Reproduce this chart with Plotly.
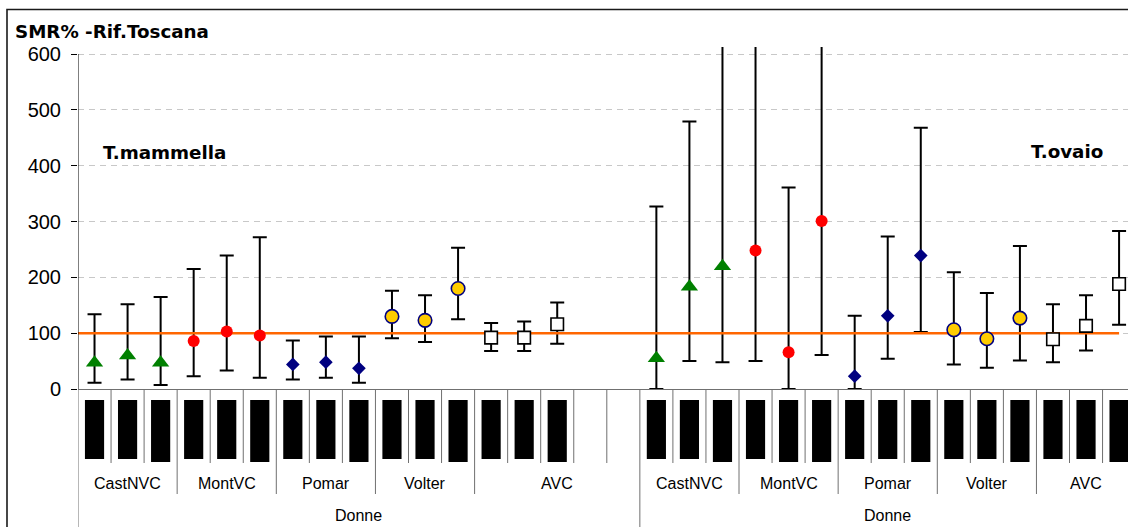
import plotly.graph_objects as go

# ---------------- data ----------------
groups = ["CastNVC", "MontVC", "Pomar", "Volter", "AVC"]
panels = ["T.mammella", "T.ovaio"]
sex_label = "Donne"
y_title = "SMR% -Rif.Toscana"
periods_per_group = 3
blank_slots_between_panels = 2

mammella_smr = [47, 60, 47, 86, 103, 96, 44, 48, 37, 130, 123, 180, 92, 92, 116]
mammella_low = [11, 17, 7, 23, 33, 20, 17, 20, 11, 91, 84, 125, 68, 68, 81]
mammella_high = [134, 152, 165, 215, 239, 272, 87, 94, 94, 176, 168, 253, 118, 121, 155]

ovaio_smr = [55, 183, 220, 248, 66, 301, 23, 131, 239, 106, 90, 127, 89, 113, 188]
ovaio_low = [0, 50, 48, 50, 0, 61, 0, 54, 102, 44, 38, 51, 48, 69, 115]
ovaio_high = [327, 479, 680, 720, 361, 760, 131, 273, 468, 209, 172, 256, 152, 168, 283]

reference_smr = 100
y_ticks = [0, 100, 200, 300, 400, 500, 600]

# ---------------- styling ----------------
group_marker = {
    "CastNVC": dict(symbol="triangle-up", size=15, color="#008000"),
    "MontVC": dict(symbol="circle", size=12, color="#ff0000"),
    "Pomar": dict(symbol="diamond", size=10.5, color="#000080"),
    "Volter": dict(symbol="circle", size=13.5, color="#ffcc00", line=dict(color="#000080", width=1.6)),
    "AVC": dict(symbol="square", size=12.5, color="white", line=dict(color="black", width=1.6)),
}

W, H = 1128, 527
ML, MT, MB = 78, 47, 138
plot_h = H - MT - MB
slot_px = 33.05
x_lo = -0.5
x_hi = x_lo + (W - ML) / slot_px
y_top = 600 * plot_h / (389 - 54)


def py(px):  # pixel row -> paper y
    return (H - MB - px) / plot_h


def px_x(px):  # pixel column -> paper x
    return (px - ML) / (W - ML)


n_per_panel = len(groups) * periods_per_group
mam_x = list(range(n_per_panel))
ova_start = n_per_panel + blank_slots_between_panels
ova_x = [ova_start + i for i in range(n_per_panel)]
n_slots = ova_start + n_per_panel

panel_data = [
    (mam_x, mammella_smr, mammella_low, mammella_high),
    (ova_x, ovaio_smr, ovaio_low, ovaio_high),
]

fig = go.Figure()

# error bars first
for xs, v, lo, hi in panel_data:
    for gi, g in enumerate(groups):
        s = slice(gi * periods_per_group, (gi + 1) * periods_per_group)
        vv, ll, hh = v[s], lo[s], hi[s]
        fig.add_trace(go.Scatter(
            x=xs[s], y=vv, mode="markers",
            marker=dict(size=1, color="rgba(0,0,0,0)"),
            error_y=dict(type="data", symmetric=False,
                         array=[h - a for h, a in zip(hh, vv)],
                         arrayminus=[a - l for a, l in zip(vv, ll)],
                         color="black", thickness=2, width=7),
            hoverinfo="skip", showlegend=False))

# reference line
fig.add_trace(go.Scatter(x=[x_lo, ova_x[-1]], y=[reference_smr, reference_smr], mode="lines",
                         line=dict(color="#ff6600", width=2.5), showlegend=False))

# markers
for xs, v, lo, hi in panel_data:
    for gi, g in enumerate(groups):
        s = slice(gi * periods_per_group, (gi + 1) * periods_per_group)
        fig.add_trace(go.Scatter(x=xs[s], y=v[s], mode="markers",
                                 marker=group_marker[g], showlegend=False, name=g))

shapes = []
# y axis line
shapes.append(dict(type="line", xref="x", yref="y", x0=x_lo, x1=x_lo, y0=0, y1=600,
                   line=dict(color="black", width=1)))
# category dividers
group_bounds = set()
for start in (0, ova_start):
    for gi in range(1, len(groups)):
        group_bounds.add(start + gi * periods_per_group - 0.5)
panel_bounds = {x_lo, ova_start - 0.5}
for k in range(n_slots):
    b = k - 0.5
    if b in panel_bounds:
        y0 = -0.6
    elif b in group_bounds:
        y0 = py(494)
    else:
        y0 = py(463)
    shapes.append(dict(type="line", xref="x", yref="paper", x0=b, x1=b, y0=0, y1=y0,
                       line=dict(color="#707070", width=1)))
# black label blocks (illegible rotated period labels)
for xs in (mam_x, ova_x):
    for j, xc in enumerate(xs):
        long_ = (j % periods_per_group == 2) or (xs is ova_x and j == 4)
        shapes.append(dict(type="rect", xref="x", yref="paper", x0=xc - 0.29, x1=xc + 0.29,
                           y0=py(462 if long_ else 459), y1=py(400),
                           fillcolor="black", line=dict(width=0)))
# outer border
shapes.append(dict(type="rect", xref="paper", yref="paper", x0=px_x(7), x1=1.05,
                   y0=-0.7, y1=py(9.5), line=dict(color="#1a1a1a", width=1.6)))

annotations = []
lab_font = dict(family="Liberation Sans", size=16, color="black")
for start in (0, ova_start):
    for gi, g in enumerate(groups):
        a = start + gi * periods_per_group - 0.5
        b = a + periods_per_group
        if start == 0 and gi == len(groups) - 1:
            b = ova_start - 0.5
        annotations.append(dict(text=g, xref="x", yref="paper", x=(a + b) / 2, y=py(483),
                                showarrow=False, font=lab_font, xanchor="center", yanchor="middle"))
for a, b in ((x_lo, ova_start - 0.5), (ova_start - 0.5, n_slots - 0.5)):
    annotations.append(dict(text=sex_label, xref="x", yref="paper", x=(a + b) / 2, y=py(515),
                            showarrow=False, font=lab_font, xanchor="center", yanchor="middle"))
bold = dict(family="DejaVu Sans", size=18.3, color="black")
annotations.append(dict(text="<b>%s</b>" % panels[0], xref="paper", yref="paper",
                        x=px_x(101), y=py(152), xanchor="left", yanchor="middle",
                        showarrow=False, font=bold))
annotations.append(dict(text="<b>%s</b>" % panels[1], xref="paper", yref="paper",
                        x=px_x(1105), y=py(151), xanchor="right", yanchor="middle",
                        showarrow=False, font=bold))
annotations.append(dict(text="<b>%s</b>" % y_title, xref="paper", yref="paper",
                        x=px_x(13), y=py(31), xanchor="left", yanchor="middle",
                        showarrow=False, font=bold))

fig.update_layout(
    width=W, height=H, margin=dict(l=ML, r=0, t=MT, b=MB, pad=0),
    plot_bgcolor="white", paper_bgcolor="white", showlegend=False,
    shapes=shapes, annotations=annotations,
)
fig.update_xaxes(range=[x_lo, x_hi], showgrid=False, zeroline=False, showticklabels=False,
                 ticks="", showline=True, linecolor="#707070", linewidth=1)
fig.update_yaxes(range=[0, y_top], tickvals=y_ticks, showgrid=True, gridcolor="#c8c8c8",
                 griddash="6px,5px", gridwidth=1, zeroline=False, ticks="outside", ticklen=6,
                 tickcolor="black", tickfont=dict(family="Liberation Sans", size=20, color="black"),
                 showline=False, ticklabelstandoff=6)

fig.write_html("out.html")
